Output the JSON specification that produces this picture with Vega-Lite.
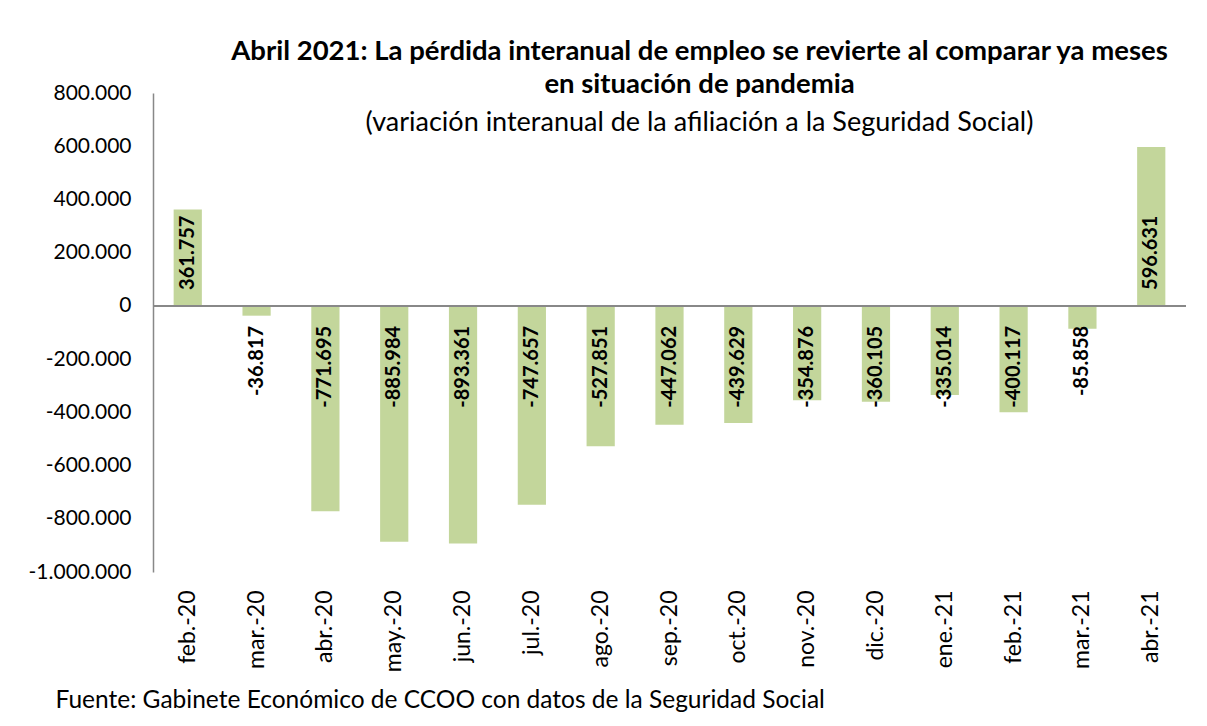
{
  "$schema": "https://vega.github.io/schema/vega-lite/v6.json",
  "width": 1033,
  "height": 479,
  "autosize": {"type": "none"},
  "padding": {"left": 153, "top": 93, "right": 21, "bottom": 154},
  "background": "white",
  "config": {
    "font": "Lato",
    "view": {"stroke": null},
    "locale": {"number": {"decimal": ",", "thousands": ".", "grouping": [3], "currency": ["", " €"], "minus": "-"}}
  },
  "title": {
    "text": ["Abril 2021: La pérdida interanual de empleo se  revierte al comparar ya meses", "en situación de pandemia"],
    "subtitle": "(variación interanual de la afiliación a la Seguridad Social)",
    "anchor": "middle",
    "dx": 30,
    "offset": -54,
    "font": "Lato",
    "fontSize": 27.5,
    "fontWeight": "bold",
    "color": "black",
    "lineHeight": 33,
    "subtitleFont": "Lato",
    "subtitleFontSize": 27,
    "subtitleColor": "black",
    "subtitlePadding": 12
  },
  "data": {
    "values": [
      {"mes": "feb.-20", "v": 361757},
      {"mes": "mar.-20", "v": -36817},
      {"mes": "abr.-20", "v": -771695},
      {"mes": "may.-20", "v": -885984},
      {"mes": "jun.-20", "v": -893361},
      {"mes": "jul.-20", "v": -747657},
      {"mes": "ago.-20", "v": -527851},
      {"mes": "sep.-20", "v": -447062},
      {"mes": "oct.-20", "v": -439629},
      {"mes": "nov.-20", "v": -354876},
      {"mes": "dic.-20", "v": -360105},
      {"mes": "ene.-21", "v": -335014},
      {"mes": "feb.-21", "v": -400117},
      {"mes": "mar.-21", "v": -85858},
      {"mes": "abr.-21", "v": 596631}
    ]
  },
  "encoding": {
    "x": {
      "field": "mes",
      "type": "nominal",
      "sort": null,
      "scale": {"paddingInner": 0.59, "paddingOuter": 0.3},
      "axis": {
        "orient": "bottom",
        "domain": false,
        "ticks": false,
        "labelAngle": -90,
        "labelPadding": 18,
        "labelFontSize": 23,
        "labelColor": "black",
        "title": "Fuente: Gabinete Económico de CCOO con datos de la Seguridad Social",
        "titleFontSize": 24.5,
        "titleFontWeight": "normal",
        "titleColor": "black",
        "titleAnchor": "start",
        "titleAlign": "left",
        "titleBaseline": "alphabetic",
        "titleX": -98,
        "titleY": 135
      }
    }
  },
  "layer": [
    {
      "mark": {"type": "bar", "color": "#c3d69b"},
      "encoding": {
        "y": {
          "field": "v",
          "type": "quantitative",
          "scale": {"domain": [-1000000, 800000], "nice": false, "zero": true},
          "axis": {
            "values": [-1000000, -800000, -600000, -400000, -200000, 0, 200000, 400000, 600000, 800000],
            "format": ",d",
            "grid": false,
            "ticks": false,
            "domainColor": "#888888",
            "domainWidth": 1.5,
            "labelFontSize": 21,
            "labelColor": "black",
            "labelPadding": 22,
            "title": null
          }
        }
      }
    },
    {
      "mark": {"type": "rule", "color": "#888888", "strokeWidth": 1.5},
      "encoding": {"y": {"datum": 0, "type": "quantitative"}, "x": null}
    },
    {
      "transform": [{"filter": "datum.v > 0"}],
      "mark": {"type": "text", "angle": -90, "align": "left", "baseline": "middle", "dx": 16, "fontSize": 20, "fontWeight": "bold", "color": "black"},
      "encoding": {
        "y": {"datum": 0, "type": "quantitative"},
        "text": {"field": "v", "type": "quantitative", "format": ",d"}
      }
    },
    {
      "transform": [{"filter": "datum.v < 0"}],
      "mark": {"type": "text", "angle": -90, "align": "right", "baseline": "middle", "dx": -20, "fontSize": 20, "fontWeight": "bold", "color": "black"},
      "encoding": {
        "y": {"datum": 0, "type": "quantitative"},
        "text": {"field": "v", "type": "quantitative", "format": ",d"}
      }
    }
  ]
}
